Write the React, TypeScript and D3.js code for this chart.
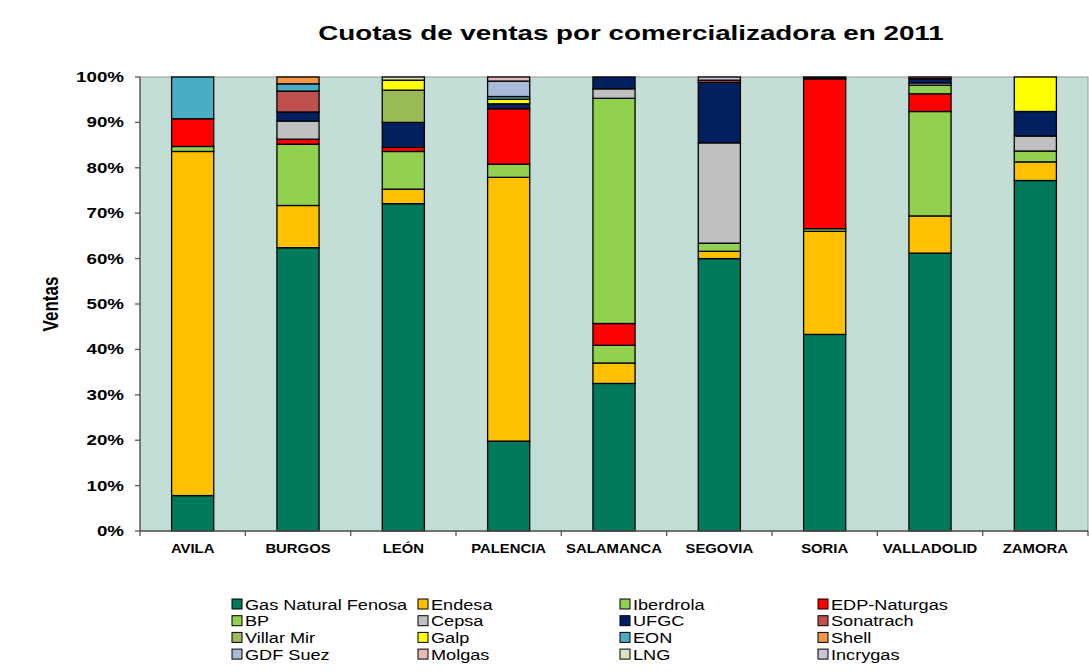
import React from 'react';
import * as d3 from 'd3';

const categories = ['AVILA', 'BURGOS', 'LEÓN', 'PALENCIA', 'SALAMANCA', 'SEGOVIA', 'SORIA', 'VALLADOLID', 'ZAMORA'];

const seriesNames = [
  'Gas Natural Fenosa', 'Endesa', 'Iberdrola', 'EDP-Naturgas',
  'BP', 'Cepsa', 'UFGC', 'Sonatrach',
  'Villar Mir', 'Galp', 'EON', 'Shell',
  'GDF Suez', 'Molgas', 'LNG', 'Incrygas',
];

const seriesColors = [
  '#007A5A', '#FFC000', '#92D050', '#FF0000',
  '#92D050', '#C0C0C0', '#002060', '#C0504D',
  '#9BBB59', '#FFFF00', '#4BACC6', '#F79646',
  '#A9B9D9', '#E6B9B8', '#D7E4BD', '#CCC0DA',
];

// shares (%) per comercializadora, in category order
const gasNatural = [7.8, 62.4, 72.1, 19.8, 32.5, 60.0, 43.3, 61.2, 77.2];
const endesa = [75.8, 9.3, 3.2, 58.1, 4.5, 1.6, 22.7, 8.2, 4.1];
const iberdrola = [1.1, 13.5, 8.3, 2.9, 3.9, 1.8, 0.6, 23.0, 2.4];
const edp = [6.1, 1.1, 0.9, 12.2, 4.8, 0, 33.0, 3.9, 0];
const bp = [0, 0, 0, 0, 49.6, 0, 0, 1.9, 0];
const cepsa = [0, 4.0, 0, 0, 2.1, 22.1, 0, 0.5, 3.3];
const ufgc = [0, 2.0, 5.5, 1.1, 2.6, 13.3, 0.4, 0.9, 5.4];
const sonatrach = [0, 4.6, 0, 0, 0, 0.5, 0, 0.4, 0];
const villarMir = [0, 0, 7.1, 0, 0, 0, 0, 0, 0];
const galp = [0, 0, 2.2, 1.0, 0, 0, 0, 0, 7.6];
const eon = [9.2, 1.6, 0, 0.6, 0, 0, 0, 0, 0];
const shell = [0, 1.5, 0, 0, 0, 0, 0, 0, 0];
const gdfSuez = [0, 0, 0, 3.4, 0, 0, 0, 0, 0];
const molgas = [0, 0, 0, 0.9, 0, 0, 0, 0, 0];
const lng = [0, 0, 0.7, 0, 0, 0, 0, 0, 0];
const incrygas = [0, 0, 0, 0, 0, 0.7, 0, 0, 0];

const seriesValues = [
  gasNatural, endesa, iberdrola, edp, bp, cepsa, ufgc, sonatrach,
  villarMir, galp, eon, shell, gdfSuez, molgas, lng, incrygas,
];

const yTicks = [0, 10, 20, 30, 40, 50, 60, 70, 80, 90, 100];

const font = 'Liberation Sans, Arial, sans-serif';

// the source picture is stretched sideways, so text gets a horizontal scale
const Txt = ({ x, y, sx = 1, children, ...rest }: any) => (
  <g transform={`translate(${x},${y}) scale(${sx},1)`}>
    <text x={0} y={0} fontFamily={font} {...rest}>{children}</text>
  </g>
);

const App = () => {
  const width = 1089;
  const height = 672;
  const margin = { top: 77, right: 1, bottom: 141, left: 140 };

  const rows = categories.map((c, i) => {
    const r: Record<string, any> = { cat: c };
    seriesNames.forEach((s, j) => { r[s] = seriesValues[j][i]; });
    return r;
  });
  const stacked = d3.stack<any>().keys(seriesNames)(rows);

  const x = d3.scaleBand()
    .domain(categories)
    .range([margin.left, width - margin.right])
    .paddingInner(0.6)
    .paddingOuter(0.3);
  const step = x.step();

  const y = d3.scaleLinear()
    .domain([0, 100])
    .range([height - margin.bottom, margin.top]);

  const plotBottom = y(0);
  const plotTop = y(100);

  const legendCols = [232, 418, 620, 818];
  const legendRowY = (r: number) => 604 + r * 16.7;

  return (
    <svg width={width} height={height} style={{ position: 'absolute', left: 0, top: 0, background: '#fff' }}>
      <Txt x={631} y={40} sx={1.39} textAnchor="middle" fontWeight="bold" fontSize={20}>
        Cuotas de ventas por comercializadora en 2011
      </Txt>

      <rect x={margin.left} y={plotTop} width={width - margin.right - margin.left} height={plotBottom - plotTop}
        fill="#C3DED6" stroke="#999" strokeWidth={1} />

      {stacked.map((layer, j) => (
        <g key={seriesNames[j]} fill={seriesColors[j]}>
          {layer.map((d, i) => (d[1] - d[0] > 0.001 ? (
            <rect key={i}
              x={x(categories[i])!}
              y={y(d[1])}
              width={x.bandwidth()}
              height={y(d[0]) - y(d[1])}
              stroke="#000" strokeWidth={1.3} />
          ) : null))}
        </g>
      ))}

      {/* y axis */}
      <line x1={margin.left} x2={margin.left} y1={plotTop} y2={plotBottom} stroke="#555" strokeWidth={1.3} />
      {yTicks.map(t => (
        <g key={t}>
          <line x1={margin.left - 5} x2={margin.left} y1={y(t)} y2={y(t)} stroke="#555" strokeWidth={1.3} />
          <Txt x={margin.left - 16} y={y(t) + 5} sx={1.34} textAnchor="end" fontWeight="bold" fontSize={14}>
            {t}%
          </Txt>
        </g>
      ))}

      {/* x axis */}
      <line x1={margin.left} x2={width - margin.right} y1={plotBottom} y2={plotBottom} stroke="#555" strokeWidth={1.3} />
      {d3.range(categories.length + 1).map(k => (
        <line key={k} x1={margin.left + k * step} x2={margin.left + k * step} y1={plotBottom} y2={plotBottom + 5}
          stroke="#555" strokeWidth={1.3} />
      ))}
      {categories.map(c => (
        <Txt key={c} x={x(c)! + x.bandwidth() / 2} y={553} sx={1.24} textAnchor="middle" fontWeight="bold" fontSize={12}>
          {c}
        </Txt>
      ))}

      <g transform={`translate(58,${(plotTop + plotBottom) / 2}) scale(1.3,1) rotate(-90)`}>
        <text x={0} y={0} textAnchor="middle" fontFamily={font} fontWeight="bold" fontSize={17}>Ventas</text>
      </g>

      {/* legend */}
      {seriesNames.map((s, j) => {
        const col = j % 4;
        const row = Math.floor(j / 4);
        const cy = legendRowY(row);
        return (
          <g key={s}>
            <rect x={legendCols[col]} y={cy - 5} width={10} height={10} fill={seriesColors[j]} stroke="#000" strokeWidth={1} />
            <Txt x={legendCols[col] + 13} y={cy + 5.5} sx={1.17} fontSize={15.5}>{s}</Txt>
          </g>
        );
      })}
    </svg>
  );
};

export default App;
